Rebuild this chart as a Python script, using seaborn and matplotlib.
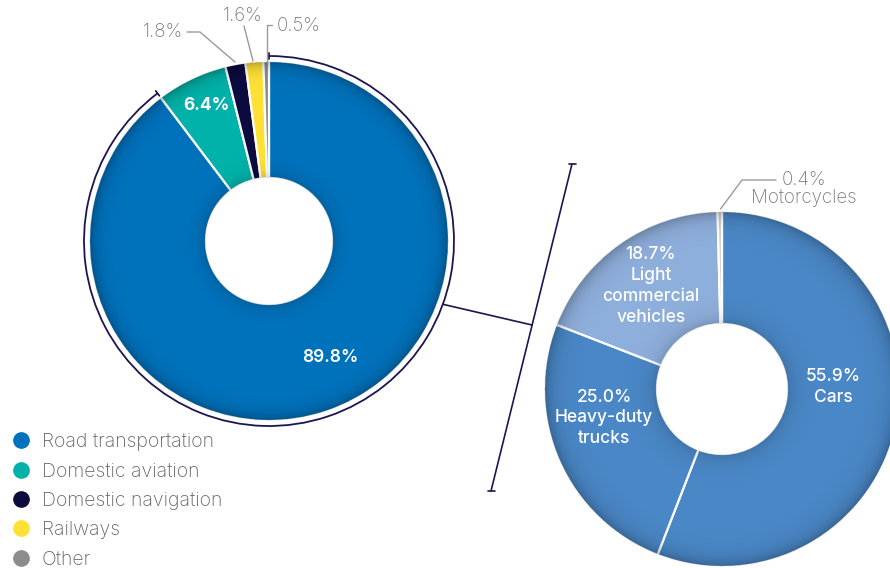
import numpy as np
import matplotlib
matplotlib.use("Agg")
import matplotlib.pyplot as plt
import seaborn as sns
from matplotlib.patches import Arc
from matplotlib.lines import Line2D

# ---------------- data ----------------
sector_labels = ["Road transportation", "Domestic aviation", "Domestic navigation", "Railways", "Other"]
sector_values = [89.8, 6.4, 1.8, 1.6, 0.5]
sector_colors = ["#0072bc", "#00b2a9", "#0d0a40", "#ffe135", "#8c8c8c"]

road_labels = ["Cars", "Heavy-duty\ntrucks", "Light\ncommercial\nvehicles", "Motorcycles"]
road_values = [55.9, 25.0, 18.7, 0.4]
road_colors = ["#4a87c6", "#4a87c6", "#8eaedb", "#cfcfcf"]

# ---------------- style ----------------
sns.set_theme(style="white")
plt.rcParams['font.family'] = ['Inter', 'DejaVu Sans']

W, H = 890, 568
fig = plt.figure(figsize=(W / 100, H / 100), dpi=100)
ax = fig.add_axes([0, 0, 1, 1])


def Y(p):
    return H - p


LC = (269, Y(241)); LR = 180; LIN = 63
RC = (722, Y(389)); RR = 178; RIN = 65

ax.pie(sector_values, colors=sector_colors, startangle=90, counterclock=False,
       center=LC, radius=LR,
       wedgeprops=dict(width=LR - LIN, edgecolor="white", linewidth=1.6))
ax.pie(road_values, colors=road_colors, startangle=90, counterclock=False,
       center=RC, radius=RR,
       wedgeprops=dict(width=RR - RIN, edgecolor="white", linewidth=1.6))


def shade(center, rout, rin, a_out=0.30, a_in=0.18, s=7.0):
    cx, cy = center
    n = int(4 * rout) + 2
    xs = np.linspace(cx - rout - 1, cx + rout + 1, n)
    ys = np.linspace(cy - rout - 1, cy + rout + 1, n)
    X, Yg = np.meshgrid(xs, ys)
    r = np.hypot(X - cx, Yg - cy)
    a = a_out * np.exp(-(rout - r) / s) + a_in * np.exp(-(r - rin) / s)
    a[(r > rout - 0.5) | (r < rin + 0.5)] = 0
    img = np.zeros((n, n, 4))
    img[..., 3] = np.clip(a, 0, 1)
    ax.imshow(img, extent=[xs[0], xs[-1], ys[0], ys[-1]], origin="lower",
              interpolation="bilinear", zorder=3)


shade(LC, LR, LIN)
shade(RC, RR, RIN, a_out=0.28, a_in=0.16, s=8.0)

navy = "#1b1650"
# outline arc around the road transportation slice
road_angle = 360 * sector_values[0] / sum(sector_values)
ra = 185
t1 = 90 - road_angle
ax.add_patch(Arc(LC, 2 * ra, 2 * ra, theta1=t1, theta2=90, color=navy, lw=1.3, zorder=4))
for t in (t1, 90):
    c, s_ = np.cos(np.radians(t)), np.sin(np.radians(t))
    ax.plot([LC[0] + (ra - 3) * c, LC[0] + (ra + 3) * c],
            [LC[1] + (ra - 3) * s_, LC[1] + (ra + 3) * s_], color=navy, lw=1.3, zorder=4)
# connector
tc = np.radians(-20)
ax.plot([LC[0] + ra * np.cos(tc), 532], [LC[1] + ra * np.sin(tc), Y(325)], color=navy, lw=1.2, zorder=4)
ax.plot([572, 491], [Y(164), Y(491)], color=navy, lw=1.2, zorder=4)
for bx, by in ((572, 164), (491, 491)):
    ax.plot([bx - 3.5, bx + 3.5], [Y(by), Y(by)], color=navy, lw=1.2, zorder=4)

# ---------------- labels ----------------
FS = 12.5
GFS = 13.5
white_kw = dict(color="white", ha="center", va="center", zorder=5, fontsize=FS)
ax.text(330, Y(357), f"{sector_values[0]:.1f}%", weight="semibold", **white_kw)
ax.text(206, Y(106), f"{sector_values[1]:.1f}%", weight="bold", **white_kw)

grey = "#7a7a7a"
lgrey = "#9a9a9a"
gkw = dict(color=grey, ha="center", va="center", fontsize=GFS, zorder=5, weight="light")
ax.text(163, Y(32), f"{sector_values[2]:.1f}%", **gkw)
ax.plot([187, 200, 235], [Y(32), Y(32), Y(62)], color=lgrey, lw=1, zorder=5)
ax.text(243, Y(16), f"{sector_values[3]:.1f}%", **gkw)
ax.plot([244, 253], [Y(26), Y(61)], color=lgrey, lw=1, zorder=5)
ax.text(299, Y(26), f"{sector_values[4]:.1f}%", **gkw)
ax.plot([272, 266.5, 266.5], [Y(25), Y(25), Y(62)], color=lgrey, lw=1, zorder=5)

ax.text(833, Y(387), f"{road_values[0]:.1f}%\n{road_labels[0]}", linespacing=1.3, weight="medium", **white_kw)
ax.text(604, Y(418), f"{road_values[1]:.1f}%\n{road_labels[1]}", linespacing=1.25, weight="medium", **white_kw)
ax.text(651, Y(286), f"{road_values[2]:.1f}%\n{road_labels[2]}", linespacing=1.3, weight="medium", **white_kw)
ax.text(804, Y(189), f"{road_values[3]:.1f}%\n{road_labels[3]}", linespacing=1.0, **gkw)
ax.plot([720.5, 742, 776], [Y(209), Y(180), Y(180)], color=lgrey, lw=1, zorder=5)

# ---------------- legend ----------------
handles = [Line2D([], [], marker="o", ls="", markersize=11, color=c) for c in sector_colors]
leg = fig.legend(handles, sector_labels, loc="upper left", bbox_to_anchor=(12 / W, 1 - 433 / H),
                 frameon=False, labelspacing=0.585, handlelength=0.95,
                 handletextpad=0.58, borderpad=0, borderaxespad=0,
                 prop=dict(family=['Inter', 'DejaVu Sans'], weight="light", size=14))
for t in leg.get_texts():
    t.set_color("#666666")

ax.set_xlim(0, W)
ax.set_ylim(0, H)
ax.set_aspect("equal")
ax.axis("off")
fig.savefig("out.png", dpi=100)
